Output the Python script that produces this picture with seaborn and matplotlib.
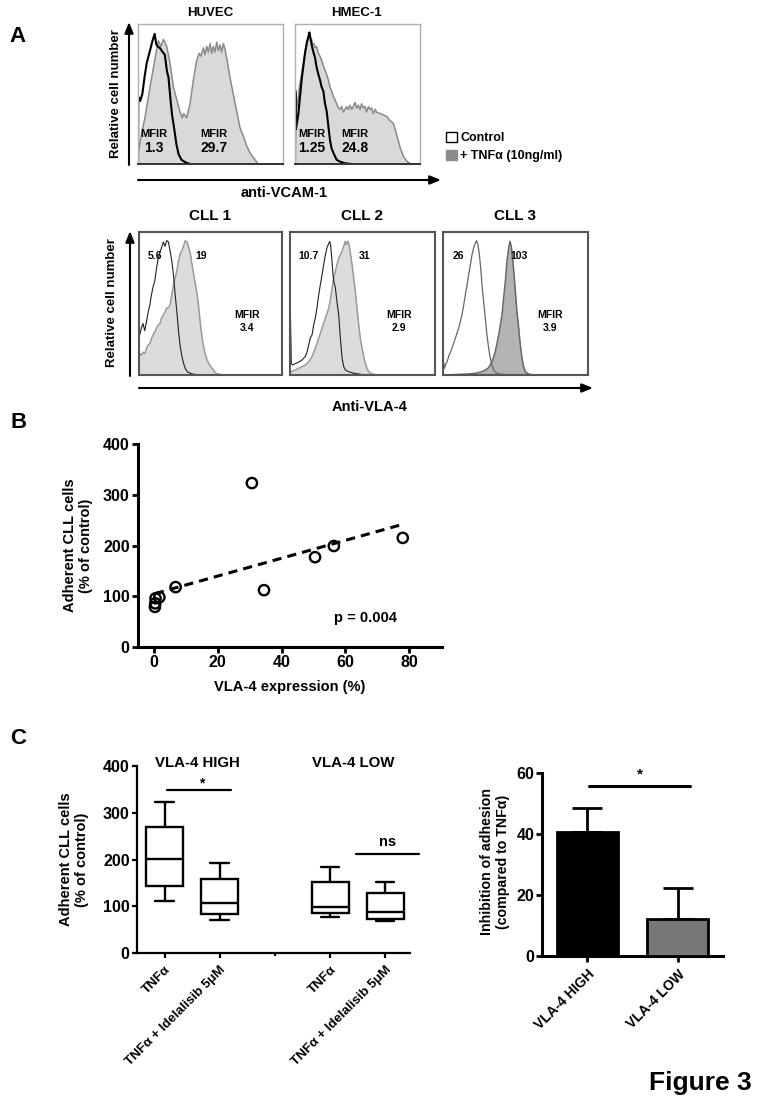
import matplotlib
matplotlib.use("Agg")
import matplotlib.pyplot as plt
import numpy as np
import pandas as pd
import seaborn as sns
from matplotlib.patches import FancyArrowPatch, Patch

# ---------------- Panel A data (x: % of panel width, y: % of panel height) ----------------
huvec_ctrl_x = [0, 0.2, 1.5, 3, 4.5, 6, 8, 10, 11.5, 12.5, 13.5, 15, 17, 18.5, 20, 21, 22.5, 23.5, 25, 26.5, 28, 30, 33, 36]
huvec_ctrl_y = [0, 48, 45, 50, 62, 72, 80, 88, 93, 86, 84, 83, 80, 78, 66, 62, 45, 35, 25, 14, 7, 3, 1, 0]
huvec_tnf_x = [0, 0.5, 2.5, 4.8, 8.3, 11.7, 14, 15.9, 17.5, 19.8, 22.1, 24.4, 26.7, 29, 30.5, 31.5, 33.6, 35.9,
               38.2, 40.5, 42.1, 43.4, 45.1, 46.2, 47.4, 48.5, 49.7, 50.8, 52, 53.1, 54.3, 55.4, 56.6, 57.7, 58.9,
               60, 61.1, 63.4, 65.7, 68, 70.3, 72.6, 74.9, 77.2, 80.7, 83, 100]
huvec_tnf_y = [0, 10, 22, 33, 55, 75, 88, 84, 89, 84, 72, 55, 46, 37, 33, 36, 33, 43, 60, 74, 79, 77, 83, 78, 84,
               80, 86, 79, 84, 80, 87, 81, 85, 80, 86, 82, 76, 62, 50, 38, 26, 20, 13, 8, 3, 0, 0]

hmec_ctrl_x = [0, 0.3, 0.8, 2.7, 4, 5.3, 6.7, 8, 9.3, 10.7, 11.5, 12.5, 13.6, 14.7, 16, 17.3, 18.7, 20, 21.3,
               22.7, 24, 25.3, 26.7, 28, 29.3, 30.7, 33.3, 36, 40, 45]
hmec_ctrl_y = [0, 52, 25, 36, 48, 60, 70, 79, 86, 91, 94, 89, 84, 80, 76, 69, 64, 60, 55, 52, 43, 38, 27, 17,
               11, 8, 3, 1.7, 0.5, 0]
hmec_tnf_x = [0, 0.5, 1.9, 3.5, 5.3, 6.7, 8, 9.3, 10.7, 11.5, 12.5, 13.3, 14.1, 15.2, 16, 17.3, 18.7, 20, 21.3,
              22.7, 24, 25.3, 26.7, 28, 29.3, 30.7, 32, 33.3, 34.7, 36, 37.3, 38.7, 40, 41.3, 42.7, 44, 45.3,
              46.7, 48, 49.3, 50.7, 52, 53.3, 54.7, 56, 57.3, 58.7, 60, 61.3, 62.7, 64, 65.3, 68, 70.7, 73.3,
              76, 78.7, 81, 84, 87, 90, 93, 100]
hmec_tnf_y = [0, 53, 41, 55, 65, 72, 80, 86, 91, 93, 90, 89, 85, 86, 83, 84, 79, 77, 74, 70, 67, 64, 60, 55,
              52, 48, 46, 43, 40, 39, 41, 37, 39, 41, 39, 42, 39, 41, 44, 40, 42, 39, 43, 40, 41, 37, 41, 39,
              40, 36, 39, 37, 36, 35, 34, 31, 29, 22, 12, 5, 1.5, 0, 0]

cll1_ctrl_x = [0, 0.5, 1.7, 2.8, 4, 5.2, 6.4, 7.6, 8.7, 9.9, 11.1, 12.3, 13.5, 14.7, 15.8, 17, 18.2, 19.4,
               20.6, 21.7, 22.9, 24.1, 25.3, 26.5, 27.7, 28.8, 30, 31.2, 32.4, 34, 37, 42]
cll1_ctrl_y = [28, 28, 33, 36, 31, 37, 44, 49, 56, 62, 66, 75, 82, 86, 89, 93, 90, 94, 93, 87, 80, 70, 56, 44,
               30, 20, 13, 8, 4.5, 2, 0.8, 0]
cll1_tnf_x = [0, 0.5, 1.7, 2.8, 4, 5.2, 6.4, 7.6, 8.7, 9.9, 11.1, 12.3, 13.5, 14.7, 15.8, 17, 18.2, 19.4, 20.6,
              21.7, 22.9, 24.1, 25.3, 26.5, 27.7, 28.8, 30, 31.2, 32.4, 33.6, 34.8, 35.9, 37.1, 38.3, 39.5,
              40.7, 41.8, 43, 44.2, 45.4, 46.6, 47.8, 48.9, 51.3, 53.7, 56, 60]
cll1_tnf_y = [15, 15, 13.7, 16, 15, 18.4, 21, 22, 25.5, 28, 30, 33, 35, 36, 40, 42, 44, 47, 47, 49, 56, 63, 68,
              73, 80, 85, 87, 90.5, 94, 93, 89, 85, 77, 70, 63, 56, 47, 35, 25.5, 18.4, 13.7, 10, 7.8, 4.3,
              1.4, 0.5, 0]

cll2_ctrl_x = [0, 0.3, 0.9, 1.8, 3.7, 6, 8.3, 10.6, 11.7, 12.9, 14, 15.2, 16.3, 17.5, 18.6, 19.8, 20.9, 22.1,
               23.2, 24.4, 25.5, 26.7, 27.4, 28, 29, 29.7, 30.3, 31.3, 32.4, 33.6, 34.7, 35.9, 37, 38.2, 40.5,
               44, 52]
cll2_ctrl_y = [0, 42, 8, 7, 8, 9, 10.5, 13, 16, 21, 26, 28, 35, 40, 47, 56, 63, 70, 77, 84, 89, 92, 93.5, 91,
               79, 70, 65, 61, 51, 42, 26, 12, 6, 3.5, 2.3, 1.2, 0]
cll2_tnf_x = [0, 0.9, 3.7, 6, 8.3, 10.6, 12.9, 15.2, 17.5, 19.8, 22.1, 24.4, 26.7, 27.8, 29, 30.1, 31.3, 32.4,
              33.6, 34.7, 35.9, 37, 37.7, 38.2, 38.6, 39.3, 40, 40.9, 41.8, 42.8, 43.9, 45.1, 46.2, 47.4,
              48.5, 49.7, 50.8, 52, 53.1, 54.3, 56.6, 60]
cll2_tnf_y = [2.3, 2.3, 3.5, 4.7, 5.8, 7, 9.3, 12.9, 18.7, 25.7, 32.7, 39.7, 46.7, 52.6, 60.7, 67.8, 72.4,
              77.1, 81.8, 84.1, 86.4, 90, 92.3, 93.5, 91.1, 92.3, 93.5, 90, 84.1, 77.1, 67.8, 58.4, 46.7, 35,
              25.7, 18.7, 12.9, 8.2, 4.7, 2.3, 0.7, 0]

cll3_ctrl_x = [0, 0.4, 1.1, 1.6, 2.8, 3.9, 6.2, 8.5, 10.8, 13.1, 14.3, 15.4, 16.6, 17.7, 18.9, 20, 21.1, 22.3,
               23.2, 24.1, 25.1, 26, 26.9, 28, 29.2, 30.3, 31.5, 32.6, 33.8, 34.9, 36.1, 38.4, 43]
cll3_ctrl_y = [0, 9, 4.7, 7, 9.3, 12.9, 18.7, 25.7, 32.7, 42.1, 49.1, 56.1, 63.1, 70.1, 77.1, 84.1, 88.8, 92.3,
               93.9, 91.1, 84.1, 74.8, 63.1, 51.4, 39.7, 28, 18.7, 11.7, 7, 3.5, 1.9, 0.7, 0.2]
cll3_tnf_x = [0, 17.7, 22.3, 26.9, 29.2, 31.5, 33.8, 36.1, 38.4, 40.7, 41.8, 43, 44.1, 45.3, 46.2, 47.1, 48,
              49, 49.9, 51, 52.2, 53.3, 54.5, 55.6, 56.8, 59.1, 62]
cll3_tnf_y = [0, 0.7, 1.2, 2.3, 3.5, 5.1, 9.3, 16.4, 28, 42.1, 53.7, 65.4, 79.4, 88.8, 93.5, 90, 81.8, 70.1,
              58.4, 44.4, 32.7, 21, 11.7, 5.8, 2.3, 0.7, 0]

# ---------------- Panel B data ----------------
vla4_expression = [0.3, 0.4, 0.5, 1.7, 6.8, 30.7, 34.5, 50.5, 56.4, 78.0]
adherent_pct = [79, 86, 96, 98, 118, 323, 112, 177, 199, 215]

# ---------------- Panel C data ----------------
box_order = ["HIGH TNFα", "HIGH TNFα + Idelalisib 5μM", "gap", "LOW TNFα", "LOW TNFα + Idelalisib 5μM"]
box_high_tnf = [111, 143, 201, 269, 323]
box_high_idela = [70, 83, 107, 158, 192]
box_low_tnf = [78, 86, 98, 152, 184]
box_low_idela = [68, 72, 88, 128, 152]
box_tick_labels = ["TNFα", "TNFα + Idelalisib 5μM", "TNFα", "TNFα + Idelalisib 5μM"]

bar_groups = ["VLA-4 HIGH", "VLA-4 LOW"]
bar_means = [40.6, 12.1]
bar_sem = [7.9, 10.3]
bar_colors = ["#000000", "#777777"]

# ---------------- style ----------------
sns.set_style("white")
plt.rcParams["font.family"] = ["Liberation Sans", "DejaVu Sans"]
plt.rcParams["font.weight"] = "bold"
plt.rcParams["axes.labelweight"] = "bold"
plt.rcParams["text.color"] = "black"
plt.rcParams["axes.labelcolor"] = "black"
plt.rcParams["xtick.color"] = "black"
plt.rcParams["ytick.color"] = "black"

W, H = 760, 1103
fig = plt.figure(figsize=(W / 100, H / 100), dpi=100)


def px_rect(x0, y0, x1, y1):
    return [x0 / W, 1 - y1 / H, (x1 - x0) / W, (y1 - y0) / H]


def ftext(x, y, s, size=9, **kw):
    ha = kw.pop("ha", "center")
    va = kw.pop("va", "center")
    fig.text(x / W, 1 - y / H, s, ha=ha, va=va, fontsize=size, fontweight="bold", color="black", **kw)


def arrow(x0, y0, x1, y1):
    fig.add_artist(FancyArrowPatch((x0 / W, 1 - y0 / H), (x1 / W, 1 - y1 / H), transform=fig.transFigure,
                                   arrowstyle="-|>,head_length=0.5,head_width=0.2", mutation_scale=13,
                                   lw=1.5, color="black", shrinkA=0, shrinkB=0))


def hist_panel(box, cx, cy, tx, ty, ctrl_color, ctrl_lw, tnf_fill, tnf_edge, spine_color, spine_lw,
               bottom_color=None):
    ax = fig.add_axes(px_rect(*box))
    ax.fill_between(tx, ty, 0, color=tnf_fill, lw=0)
    sns.lineplot(x=tx, y=ty, ax=ax, color=tnf_edge, lw=1.1, estimator=None, sort=False)
    sns.lineplot(x=cx, y=cy, ax=ax, color=ctrl_color, lw=ctrl_lw, estimator=None, sort=False)
    ax.set_xlim(0, 100)
    ax.set_ylim(0, 100)
    ax.set_xticks([])
    ax.set_yticks([])
    ax.set_xlabel("")
    ax.set_ylabel("")
    for s in ax.spines.values():
        s.set_visible(True)
        s.set_color(spine_color)
        s.set_linewidth(spine_lw)
    if bottom_color:
        ax.spines["bottom"].set_color(bottom_color)
        ax.spines["bottom"].set_linewidth(1.4)
    return ax


def style_axis(ax, spine_lw, tick_len, tick_w, labelsize):
    for side in ["top", "right"]:
        ax.spines[side].set_visible(False)
    for side in ["left", "bottom"]:
        ax.spines[side].set_linewidth(spine_lw)
        ax.spines[side].set_color("black")
    ax.tick_params(axis="both", which="major", length=tick_len, width=tick_w, color="black",
                   labelsize=labelsize, labelcolor="black", pad=1.5, direction="out", left=True, bottom=True)


# ---------------- Panel A ----------------
ftext(17, 37, "A", size=16)
hist_panel((138, 24, 283, 164), huvec_ctrl_x, huvec_ctrl_y, huvec_tnf_x, huvec_tnf_y,
           "black", 1.5, "#d9d9d9", "#8a8a8a", "#b0b0b0", 1.0, bottom_color="#333333")
hist_panel((295, 24, 420, 164), hmec_ctrl_x, hmec_ctrl_y, hmec_tnf_x, hmec_tnf_y,
           "black", 1.5, "#d9d9d9", "#8a8a8a", "#b0b0b0", 1.0, bottom_color="#333333")
ftext(210, 13, "HUVEC", size=9.5)
ftext(356, 13, "HMEC-1", size=9.5)
ftext(154, 134, "MFIR", size=8)
ftext(154, 148, "1.3", size=10)
ftext(214, 134, "MFIR", size=8)
ftext(214, 148, "29.7", size=10)
ftext(312, 134, "MFIR", size=8)
ftext(312, 148, "1.25", size=10)
ftext(355, 134, "MFIR", size=8)
ftext(355, 148, "24.8", size=10)
arrow(129, 165, 129, 22)
arrow(138, 180, 441, 180)
ftext(116, 94, "Relative cell number", size=9.5, rotation=90)
ftext(284, 193, "anti-VCAM-1", size=10.5)
fig.legend(handles=[Patch(fc="white", ec="black", lw=1.0), Patch(fc="#8c8c8c", ec="#8c8c8c", lw=1.0)],
           labels=["Control", "+ TNFα (10ng/ml)"], loc="upper left",
           bbox_to_anchor=(446 / W, 1 - 132 / H), frameon=False, borderpad=0, borderaxespad=0,
           handlelength=0.85, handleheight=0.85, handletextpad=0.3, labelspacing=0.45,
           prop={"size": 9, "weight": "bold"})

hist_panel((139, 232, 282, 375), cll1_ctrl_x, cll1_ctrl_y, cll1_tnf_x, cll1_tnf_y,
           "#222222", 0.8, "#dcdcdc", "#9a9a9a", "#555555", 1.5)
hist_panel((290, 232, 435, 375), cll2_ctrl_x, cll2_ctrl_y, cll2_tnf_x, cll2_tnf_y,
           "#222222", 0.8, "#dcdcdc", "#9a9a9a", "#555555", 1.5)
hist_panel((443, 232, 588, 375), cll3_ctrl_x, cll3_ctrl_y, cll3_tnf_x, cll3_tnf_y,
           "#666666", 0.9, "#b3b3b3", "#666666", "#555555", 1.5)
ftext(210, 216, "CLL 1", size=11)
ftext(362, 216, "CLL 2", size=11)
ftext(515, 216, "CLL 3", size=11)
ftext(155, 256, "5.6", size=7.5)
ftext(201, 256, "19", size=7.5)
ftext(247, 315, "MFIR", size=7.5)
ftext(247, 328, "3.4", size=7.5)
ftext(309, 256, "10.7", size=7.5)
ftext(365, 256, "31", size=7.5)
ftext(399, 315, "MFIR", size=7.5)
ftext(399, 328, "2.9", size=7.5)
ftext(458, 256, "26", size=7.5)
ftext(519, 256, "103", size=7.5)
ftext(550, 315, "MFIR", size=7.5)
ftext(550, 328, "3.9", size=7.5)
arrow(130, 376, 130, 231)
arrow(139, 388, 593, 388)
ftext(112, 303, "Relative cell number", size=9.5, rotation=90)
ftext(370, 407, "Anti-VLA-4", size=10.5)

# ---------------- Panel B ----------------
ftext(19, 423, "B", size=16)
axB = fig.add_axes(px_rect(138, 444, 442, 647))
sns.scatterplot(x=vla4_expression, y=adherent_pct, ax=axB, marker="o", s=55,
                facecolors="none", edgecolors="black", linewidth=1.7, zorder=3)
sns.regplot(x=vla4_expression, y=adherent_pct, ax=axB, scatter=False, ci=None,
            line_kws=dict(color="black", lw=2.2, ls=(0, (3, 2))))
axB.set_xlim(-5, 90.3)
axB.set_ylim(0, 400)
axB.set_xticks([0, 20, 40, 60, 80])
axB.set_yticks([0, 100, 200, 300, 400])
axB.set_xlabel("VLA-4 expression (%)", fontsize=10.5)
axB.set_ylabel("Adherent CLL cells\n(% of control)", fontsize=10.5)
axB.xaxis.label.set_verticalalignment("center")
axB.xaxis.set_label_coords(0.5, -0.197)
axB.yaxis.label.set_verticalalignment("center")
axB.yaxis.set_label_coords(-0.197, 0.5)
style_axis(axB, 2.2, 4.5, 2.0, 11.5)
for lab in axB.get_xticklabels() + axB.get_yticklabels():
    lab.set_fontweight("bold")
axB.text(0.75, 0.145, "p = 0.004", transform=axB.transAxes, ha="center", va="center",
         fontsize=10.5, fontweight="bold")

# ---------------- Panel C left ----------------
ftext(18, 738, "C", size=16)
axC = fig.add_axes(px_rect(137, 766, 410, 953))
df_box = pd.DataFrame({
    "condition": [box_order[0]] * 5 + [box_order[1]] * 5 + [box_order[3]] * 5 + [box_order[4]] * 5,
    "value": box_high_tnf + box_high_idela + box_low_tnf + box_low_idela,
})
sns.boxplot(data=df_box, x="condition", y="value", order=box_order, whis=(0, 100), width=0.67,
            color="white", linecolor="black", linewidth=1.7, showfliers=False, ax=axC)
axC.set_xlim(-0.5, 4.45)
axC.set_ylim(0, 400)
axC.set_xticks([0, 1, 3, 4])
axC.set_xticks([2], minor=True)
axC.set_xticklabels(box_tick_labels, rotation=45, ha="right", rotation_mode="anchor",
                    fontsize=9.5, fontweight="bold")
axC.set_yticks([0, 100, 200, 300, 400])
axC.set_xlabel("")
axC.set_ylabel("Adherent CLL cells\n(% of control)", fontsize=10.5)
axC.yaxis.label.set_verticalalignment("center")
axC.yaxis.set_label_coords(-0.231, 0.5)
style_axis(axC, 1.6, 3.8, 1.6, 11.5)
axC.tick_params(axis="x", which="major", labelsize=9.5, pad=4)
axC.tick_params(axis="x", which="minor", length=2.5, width=1.6, color="black", bottom=True)
for lab in axC.get_yticklabels():
    lab.set_fontweight("bold")
ftext(197, 763, "VLA-4 HIGH", size=10.8)
ftext(353, 763, "VLA-4 LOW", size=10.8)
axC.plot([0.044, 1.204], [349, 349], color="black", lw=1.6, clip_on=False)
axC.text(0.68, 362, "*", ha="center", va="center", fontsize=10, fontweight="bold")
axC.plot([3.47, 4.61], [212, 212], color="black", lw=1.6, clip_on=False)
axC.text(4.05, 237, "ns", ha="center", va="center", fontsize=10.5, fontweight="bold")

# ---------------- Panel C right ----------------
axD = fig.add_axes(px_rect(542, 773, 723, 956))
sns.barplot(x=bar_groups, y=bar_means, hue=bar_groups, palette=bar_colors, legend=False, width=0.67,
            edgecolor="black", linewidth=2.0, errorbar=None, ax=axD, zorder=3)
axD.errorbar(x=[0, 1], y=bar_means, yerr=[[0, 0], bar_sem], fmt="none", ecolor="black",
             elinewidth=2.0, capsize=10.5, capthick=2.0, zorder=2)
axD.set_xlim(-0.5, 1.5)
axD.set_ylim(0, 60)
axD.set_yticks([0, 20, 40, 60])
axD.set_xticks([0, 1])
axD.set_xticklabels(bar_groups, rotation=45, ha="right", rotation_mode="anchor",
                    fontsize=10, fontweight="bold")
axD.set_xlabel("")
axD.set_ylabel("Inhibition of adhesion\n(compared to TNFα)", fontsize=10.2)
axD.yaxis.label.set_verticalalignment("center")
axD.yaxis.set_label_coords(-0.26, 0.514)
style_axis(axD, 2.2, 4.0, 2.0, 11.5)
axD.tick_params(axis="x", which="major", labelsize=10, pad=4)
for lab in axD.get_yticklabels():
    lab.set_fontweight("bold")
axD.plot([0.019, 1.135], [55.7, 55.7], color="black", lw=2.2, clip_on=False)
axD.text(0.583, 59.5, "*", ha="center", va="center", fontsize=11, fontweight="bold")

ftext(700, 1083, "Figure 3", size=19)

fig.savefig("out.png", dpi=100)
